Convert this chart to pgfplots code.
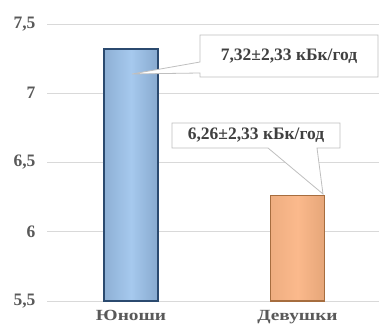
\documentclass[border=0pt]{standalone}
\usepackage{fontspec}
\setmainfont{Liberation Serif}
\newfontfamily\catfont[FakeStretch=1.25]{Liberation Serif}
\usepackage{pgfplots}
\pgfplotsset{compat=1.18}
\definecolor{gridc}{HTML}{D9D9D9}
\definecolor{tickc}{HTML}{595959}
\definecolor{txtc}{HTML}{404040}
\definecolor{boxc}{HTML}{BFBFBF}
\definecolor{bluef}{HTML}{A6C9EE}
\definecolor{blued}{HTML}{2B4A6F}
\definecolor{orf}{HTML}{FBB98C}
\definecolor{ord}{HTML}{A66D3F}
\begin{document}
\begin{tikzpicture}[x=1pt,y=1pt]
\useasboundingbox (0,0) rectangle (379,331);
\begin{axis}[
  at={(47pt,30pt)}, anchor=south west,
  scale only axis, width=332pt, height=277pt,
  xmin=-0.505, xmax=1.49, ymin=5.5, ymax=7.5,
  ytick={5.5,6,6.5,7,7.5},
  yticklabels={{5,5},6,{6,5},7,{7,5}},
  xtick={0,1}, xticklabels={Юноши,Девушки},
  ymajorgrids, major grid style={gridc, line width=0.8pt},
  axis line style={draw=none}, major tick length=0pt,
  ybar, bar width=54pt,
  yticklabel style={font=\bfseries\fontsize{17.5}{20}\selectfont, text=tickc, xshift=-8pt},
  xticklabel style={font=\catfont\bfseries\fontsize{15.5}{18}\selectfont, text=tickc, yshift=-6pt},
]
\addplot[bar shift=0pt, fill=bluef, draw=blued, line width=1.2pt, left color=bluef!80!blued, right color=bluef!75!blued, middle color=bluef] coordinates {(0,7.32)};
\addplot[bar shift=0pt, fill=orf, draw=ord, line width=1.2pt, left color=orf!85!ord, right color=orf!75!ord, middle color=orf] coordinates {(1,6.26)};
\end{axis}
\draw[boxc, fill=white, line width=0.8pt] (200,296) -- (378,296) -- (378,254) -- (200,254) -- (200,258) -- (132,257) -- (200,269) -- cycle;
\node[font=\bfseries\fontsize{17.5}{20}\selectfont, text=txtc] at (289,275) {7,32±2,33 кБк/год};
\draw[boxc, fill=white, line width=0.8pt] (172,208) -- (340,208) -- (340,183) -- (317,183) -- (323,137) -- (268,183) -- (172,183) -- cycle;
\node[font=\bfseries\fontsize{17.5}{20}\selectfont, text=txtc] at (256,195.5) {6,26±2,33 кБк/год};
\end{tikzpicture}
\end{document}
